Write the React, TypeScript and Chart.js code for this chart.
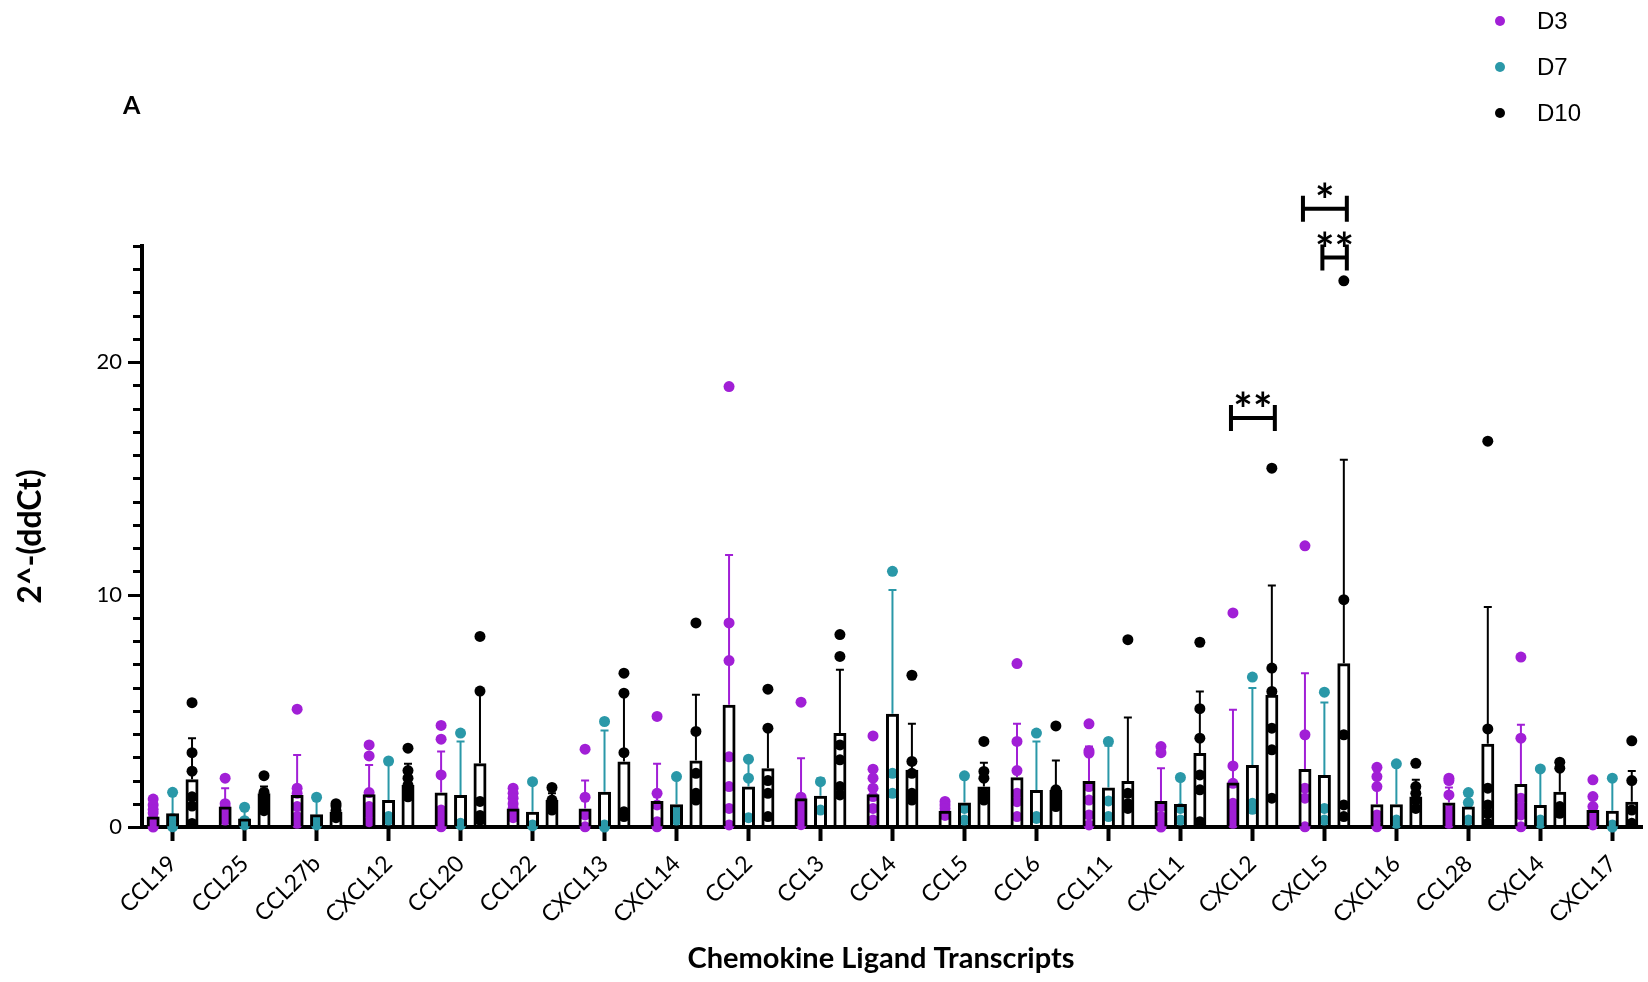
import React, { useEffect, useRef } from 'react';
import { Chart, registerables } from 'chart.js';

Chart.register(...registerables);

// ---------- data ----------
const categories = [
  'CCL19', 'CCL25', 'CCL27b', 'CXCL12', 'CCL20', 'CCL22', 'CXCL13', 'CXCL14', 'CCL2', 'CCL3', 'CCL4',
  'CCL5', 'CCL6', 'CCL11', 'CXCL1', 'CXCL2', 'CXCL5', 'CXCL16', 'CCL28', 'CXCL4', 'CXCL17',
];
const seriesNames = ['D3', 'D7', 'D10'];
const seriesColors = ['#a11fd6', '#2a98a8', '#000000'];

// bar heights (mean)
const meanD3 = [0.45, 0.88, 1.38, 1.41, 1.48, 0.8, 0.8, 1.12, 5.26, 1.24, 1.41, 0.7, 2.14, 1.98, 1.12, 1.91, 2.5, 0.98, 1.05, 1.85, 0.73];
const meanD7 = [0.59, 0.37, 0.55, 1.16, 1.38, 0.66, 1.52, 0.98, 1.74, 1.34, 4.87, 1.05, 1.59, 1.7, 0.99, 2.67, 2.24, 0.98, 0.88, 0.95, 0.7];
const meanD10 = [2.05, 1.45, 0.66, 1.81, 2.74, 1.16, 2.82, 2.86, 2.53, 4.04, 2.46, 1.74, 1.59, 1.98, 3.18, 5.69, 7.05, 1.31, 3.58, 1.52, 1.09];

// top of the (upper) error bar
const errTopD3 = [0.95, 1.67, 3.1, 2.67, 3.25, 1.3, 2.0, 2.72, 11.7, 2.96, 2.6, 0.95, 4.44, 3.46, 2.53, 5.04, 6.62, 2.57, 1.7, 4.4, 1.35];
const errTopD7 = [1.45, 0.85, 1.2, 2.7, 3.68, 1.9, 4.15, 2.17, 2.9, 2.1, 10.2, 2.2, 3.68, 3.5, 2.1, 5.98, 5.36, 2.72, 1.35, 2.5, 2.1];
const errTopD10 = [3.82, 1.74, 0.95, 2.72, 5.8, 1.45, 5.76, 5.69, 4.3, 6.77, 4.44, 2.77, 2.86, 4.71, 5.83, 10.39, 15.8, 2.03, 9.47, 2.67, 2.41];

// individual points
const pointsD3 = [
  [1.2, 0.95, 0.75, 0.6, 0.35, 0.15, 0.0],
  [2.1, 1.0, 0.85, 0.6, 0.4, 0.3],
  [5.07, 1.67, 1.45, 0.88, 0.45, 0.16],
  [3.53, 3.06, 1.48, 0.88, 0.59, 0.23],
  [4.37, 3.78, 2.24, 0.73, 0.45, 0.16, 0.01],
  [1.67, 1.45, 1.24, 1.0, 0.8, 0.6, 0.4],
  [3.35, 1.28, 0.52, 0.01],
  [4.76, 1.45, 0.95, 0.23, 0.01],
  [18.95, 8.78, 7.16, 3.02, 1.74, 0.8, 0.09],
  [5.37, 1.28, 0.9, 0.6, 0.3, 0.1],
  [3.92, 2.49, 2.1, 1.67, 1.31, 0.8, 0.3],
  [1.1, 0.95, 0.8, 0.6, 0.5],
  [7.03, 3.68, 2.43, 1.45, 1.09, 0.45],
  [4.44, 3.28, 3.18, 1.74, 1.16, 0.52, 0.09],
  [3.46, 3.2, 0.88, 0.45, 0.09, 0.0],
  [9.21, 2.63, 1.88, 1.02, 0.73, 0.45, 0.16],
  [12.1, 3.97, 1.67, 1.24, 0.01],
  [2.57, 2.17, 1.74, 0.52, 0.37, 0.01],
  [2.1, 2.0, 1.38, 0.73, 0.45, 0.16],
  [7.31, 3.82, 1.24, 0.88, 0.52, 0.01],
  [2.03, 1.31, 0.88, 0.59, 0.3, 0.09],
];
const pointsD7 = [
  [1.49, 0.37, 0.01],
  [0.85, 0.27, 0.09],
  [1.28, 0.3, 0.09],
  [2.84, 0.45, 0.3],
  [4.04, 0.16, 0.09],
  [1.95, 0.09, 0.05],
  [4.54, 0.09, 0.0],
  [2.17, 0.66, 0.3],
  [2.92, 2.1, 0.4],
  [1.95, 0.73],
  [11.0, 2.31, 1.45],
  [2.2, 0.8, 0.3],
  [4.04, 0.45, 0.37],
  [3.68, 1.12, 0.45],
  [2.13, 0.8, 0.3],
  [6.45, 1.02, 0.76],
  [5.8, 0.8, 0.3],
  [2.72, 0.3, 0.16],
  [1.48, 1.05, 0.3],
  [2.5, 0.3, 0.16],
  [2.1, 0.09, 0.0],
];
const pointsD10 = [
  [5.35, 3.2, 2.4, 1.3, 0.9, 0.15],
  [2.21, 1.5, 1.3, 1.1, 0.9, 0.7],
  [1.0, 0.9, 0.7, 0.5, 0.4],
  [3.39, 2.43, 2.1, 1.8, 1.6, 1.3],
  [8.2, 5.85, 1.1, 0.5, 0.3],
  [1.7, 1.16, 1.0, 0.73],
  [6.62, 5.76, 3.2, 0.66, 0.45],
  [8.78, 4.11, 2.31, 1.45, 1.16],
  [5.93, 4.25, 2.0, 1.45, 0.45],
  [8.28, 7.34, 3.53, 2.89, 1.74, 1.38],
  [6.53, 2.82, 2.31, 1.45, 1.16],
  [3.68, 2.39, 2.1, 1.45, 1.16],
  [4.35, 1.6, 1.45, 1.16, 0.88],
  [8.06, 1.45, 1.0, 0.8],
  [7.95, 5.09, 3.82, 2.24, 1.6, 0.23],
  [15.44, 6.84, 5.83, 4.25, 3.32, 1.24],
  [23.5, 9.78, 3.97, 0.95, 0.45],
  [2.74, 1.74, 1.45, 1.16, 0.8],
  [16.6, 4.22, 1.67, 0.95, 0.59, 0.16],
  [2.79, 2.53, 0.88, 0.59],
  [3.71, 2.0, 0.73, 0.16],
];

const yMajorTicks = [0, 10, 20];

// significance brackets
const sigCategory = ['CXCL2', 'CXCL5', 'CXCL5'];
const sigFrom = ['D3', 'D3', 'D7'];
const sigTo = ['D10', 'D10', 'D10'];
const sigLevel = [17.6, 26.6, 24.5];
const sigText = ['**', '*', '**'];

const panelLabel = 'A';
const xTitle = 'Chemokine Ligand Transcripts';
const yTitle = '2^-(ddCt)';

// ---------- layout constants ----------
const W = 1648;
const H = 982;
const GROUP_OFFSET = [-0.27, 0, 0.27];
const FONT = 'Lato, "Open Sans", sans-serif';

const means = [meanD3, meanD7, meanD10];
const errTops = [errTopD3, errTopD7, errTopD10];
const points = [pointsD3, pointsD7, pointsD10];

const decorPlugin = {
  id: 'decor',
  beforeDatasetsDraw(chart: any) {
    const { ctx } = chart;
    const xs = chart.scales.x;
    const ys = chart.scales.y;
    ctx.save();
    for (let s = 0; s < 3; s++) {
      ctx.strokeStyle = seriesColors[s];
      ctx.lineWidth = 2;
      for (let i = 0; i < categories.length; i++) {
        const px = xs.getPixelForValue(i + GROUP_OFFSET[s]);
        const y0 = ys.getPixelForValue(means[s][i]);
        const y1 = ys.getPixelForValue(errTops[s][i]);
        if (y1 >= y0) continue;
        ctx.beginPath();
        ctx.moveTo(px, y0);
        ctx.lineTo(px, y1);
        ctx.moveTo(px - 4, y1);
        ctx.lineTo(px + 4, y1);
        ctx.stroke();
      }
    }
    ctx.restore();
  },
  afterDraw(chart: any) {
    const { ctx } = chart;
    const xs = chart.scales.x;
    const ys = chart.scales.y;
    ctx.save();
    // y-axis ticks (major + minor)
    ctx.strokeStyle = '#000';
    ctx.lineWidth = 3;
    const axisX = ys.right;
    ys.ticks.forEach((t: any) => {
      const py = Math.round(ys.getPixelForValue(t.value)) + 0.5;
      const len = yMajorTicks.includes(t.value) ? 14 : 9;
      ctx.beginPath();
      ctx.moveTo(axisX - len, py);
      ctx.lineTo(axisX, py);
      ctx.stroke();
    });

    // significance brackets
    ctx.lineWidth = 4;
    ctx.fillStyle = '#000';
    for (let k = 0; k < sigCategory.length; k++) {
      const ci = categories.indexOf(sigCategory[k]);
      const a = seriesNames.indexOf(sigFrom[k]);
      const b = seriesNames.indexOf(sigTo[k]);
      const x1 = xs.getPixelForValue(ci + GROUP_OFFSET[a]) - 2;
      const x2 = xs.getPixelForValue(ci + GROUP_OFFSET[b]) + 3;
      const py = ys.getPixelForValue(sigLevel[k]);
      ctx.beginPath();
      ctx.moveTo(x1, py);
      ctx.lineTo(x2, py);
      ctx.moveTo(x1, py - 13);
      ctx.lineTo(x1, py + 13);
      ctx.moveTo(x2, py - 13);
      ctx.lineTo(x2, py + 13);
      ctx.stroke();
      ctx.font = `bold 46px ${FONT}`;
      ctx.textAlign = 'center';
      ctx.textBaseline = 'alphabetic';
      ctx.fillText(sigText[k], (x1 + x2) / 2, py + 8);
    }

    // x-axis title
    ctx.fillStyle = '#000';
    ctx.font = `bold 29px ${FONT}`;
    ctx.textAlign = 'center';
    ctx.textBaseline = 'middle';
    ctx.fillText(xTitle, 881, 959);

    // legend
    const legendY = [21, 67, 113];
    for (let s = 0; s < 3; s++) {
      ctx.fillStyle = seriesColors[s];
      ctx.beginPath();
      ctx.arc(1500, legendY[s], 5, 0, Math.PI * 2);
      ctx.fill();
      ctx.fillStyle = '#000';
      ctx.font = '24px "Liberation Sans", Arial, sans-serif';
      ctx.textAlign = 'left';
      ctx.textBaseline = 'middle';
      ctx.fillText(seriesNames[s], 1537, legendY[s] + 1);
    }

    // panel label
    ctx.font = `bold 25px ${FONT}`;
    ctx.textAlign = 'left';
    ctx.textBaseline = 'middle';
    ctx.fillText(panelLabel, 123, 106);
    ctx.restore();
  },
};

export default function App() {
  const canvasRef = useRef<HTMLCanvasElement | null>(null);

  useEffect(() => {
    document.body.style.margin = '0';
    const canvas = canvasRef.current;
    if (!canvas) return;

    const barSets = [0, 1, 2].map((s) => ({
      type: 'bar' as const,
      label: seriesNames[s] + ' mean',
      data: categories.map((_, i) => ({ x: i + GROUP_OFFSET[s], y: means[s][i] })),
      backgroundColor: 'rgba(0,0,0,0)',
      borderColor: '#000',
      borderWidth: 3,
      grouped: false,
      maxBarThickness: 13,
      barPercentage: 0.9,
      order: 0,
    }));

    const pointSets = [0, 1, 2].map((s) => ({
      type: 'scatter' as const,
      label: seriesNames[s],
      data: points[s].flatMap((vals, i) => vals.map((v) => ({ x: i + GROUP_OFFSET[s], y: v }))),
      backgroundColor: seriesColors[s],
      pointBackgroundColor: seriesColors[s],
      pointBorderWidth: 0,
      pointRadius: 5.5,
      pointHoverRadius: 5.5,
      showLine: false,
      clip: false,
      order: 1,
    }));

    const chart = new Chart(canvas, {
      type: 'bar',
      data: { datasets: [...barSets, ...pointSets] as any },
      options: {
        responsive: false,
        animation: false,
        devicePixelRatio: 1,
        layout: { padding: { top: 246, left: 0, right: 0, bottom: 0 } },
        plugins: { legend: { display: false }, tooltip: { enabled: false } },
        scales: {
          x: {
            type: 'linear',
            min: -0.425,
            max: 20.419,
            offset: false,
            afterBuildTicks: (s: any) => {
              s.ticks = categories.map((_, i) => ({ value: i }));
            },
            afterFit: (s: any) => {
              s.height = 155;
            },
            ticks: {
              autoSkip: false,
              minRotation: 45,
              maxRotation: 45,
              padding: 9,
              color: '#000',
              font: { family: FONT, size: 23 },
              callback: (v: any) => categories[v] ?? '',
            },
            grid: {
              drawOnChartArea: false,
              drawTicks: true,
              tickLength: 14,
              tickWidth: 4,
              tickColor: '#000',
              offset: false,
            },
            border: { display: true, width: 4, color: '#000' },
            title: { display: false },
          },
          y: {
            type: 'linear',
            min: 0,
            max: 25,
            afterFit: (s: any) => {
              s.width = 142;
            },
            ticks: {
              stepSize: 1,
              autoSkip: false,
              padding: 20,
              color: '#000',
              font: { family: FONT, size: 22 },
              callback: (v: any) => (yMajorTicks.includes(v) ? String(v) : ''),
            },
            grid: { drawOnChartArea: false, drawTicks: false },
            border: { display: true, width: 4, color: '#000' },
            title: {
              display: true,
              text: yTitle,
              color: '#000',
              font: { family: FONT, size: 32, weight: 'bold' },
              padding: { top: 11, bottom: 0 },
            },
          },
        },
      } as any,
      plugins: [decorPlugin],
    });

    return () => chart.destroy();
  }, []);

  return (
    <div style={{ position: 'absolute', left: 0, top: 0, width: W, height: H, background: '#fff' }}>
      <canvas ref={canvasRef} width={W} height={H} style={{ display: 'block', width: W, height: H }} />
    </div>
  );
}
